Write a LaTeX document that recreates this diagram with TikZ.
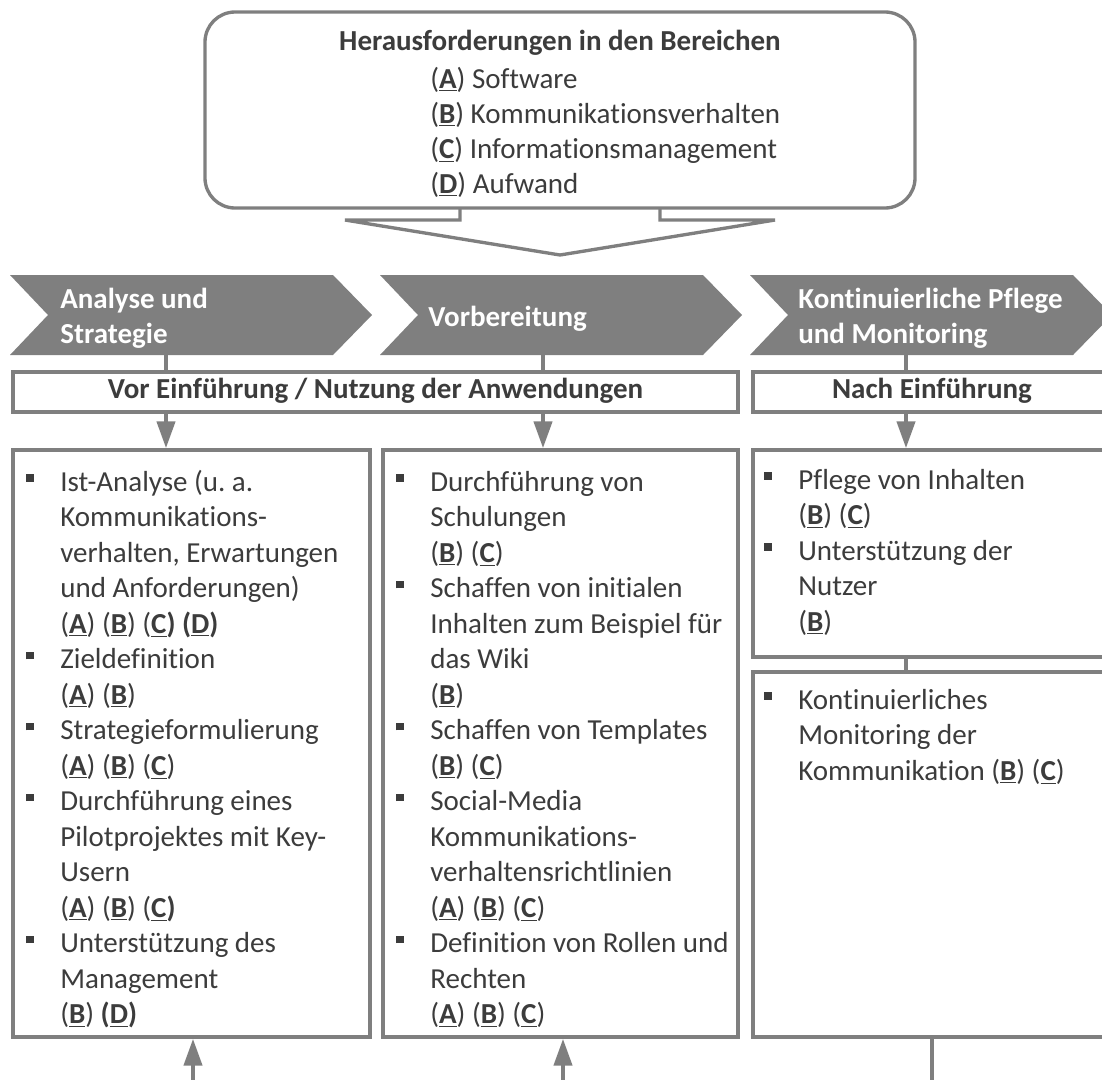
\documentclass[tikz,border=0pt]{standalone}
\usepackage{fontspec}
\setmainfont{Carlito}[Ligatures=NoCommon]
\usetikzlibrary{arrows.meta,fit}
\frenchspacing

\definecolor{linegray}{HTML}{7F7F7F}
\definecolor{txtgray}{HTML}{3C3C3C}

% underlined area letter, bullet square, first-line strut
\newcommand{\ltr}[1]{\underline{\textbf{#1}}}
\newcommand{\sq}{\leavevmode\llap{\rule[5.4pt]{4.3pt}{4.3pt}\hspace{15.1pt}}}
\newcommand{\tstrut}{\rule{0pt}{14.2pt}}

\tikzset{
  frame/.style={draw=linegray, line width=1.9pt, fill=white, inner sep=0pt},
  chev/.style={fill=linegray},
  conn/.style={draw=linegray, line width=2.6pt},
  arr/.style={conn, -{Triangle[length=15.4pt,width=10.2pt]}},
  bodytext/.style={anchor=north west, inner sep=0pt, align=left, text=txtgray,
    font=\fontsize{16.5}{20.2}\selectfont},
  headtext/.style={inner sep=0pt, text=txtgray, font=\bfseries\fontsize{16.5}{19.9}\selectfont},
  chevtext/.style={anchor=north west, inner sep=0pt, align=left, text=white,
    font=\bfseries\fontsize{16.5}{20.2}\selectfont}
}

\begin{document}
\begin{tikzpicture}[x=0.02cm, y=-0.02cm]
  \useasboundingbox (0,0) rectangle (1102,1079);
  \clip (0,0) rectangle (1102,1079);

  % challenges and the wide arrow below
  \draw[linegray, line width=1.9pt, fill=white] (460,208) -- (460,220) -- (345,220) -- (560,255)
    -- (775,220) -- (660,220) -- (660,208);
  \node[frame, rounded corners=0.6cm, fit={(205,12) (915,208)}] (chall) {};
  \node[headtext, anchor=base] (title) at (560,50) {Herausforderungen in den Bereichen};
  \node[bodytext, font=\fontsize{16.5}{19.9}\selectfont] (areas) at (430,63) {\tstrut(\ltr{A}) Software\\
    (\ltr{B}) Kommunikationsverhalten\\
    (\ltr{C}) Informationsmanagement\\
    (\ltr{D}) Aufwand};

  % phases
  \foreach \x in {10,380,750}
    \fill[chev] (\x,275) -- ++(323,0) -- ++(39,40) -- ++(-39,40) -- ++(-323,0) -- ++(38,-40) -- cycle;
  \node[chevtext] (chA) at (60,283) {\tstrut Analyse und\\Strategie};
  \node[chevtext] (chB) at (428,301) {\tstrut Vorbereitung};
  \node[chevtext] (chC) at (798,283) {\tstrut Kontinuierliche Pflege\\und Monitoring};
  \coordinate (cA) at (166,355);
  \coordinate (cB) at (543,355);
  \coordinate (cC) at (906,355);

  % time bars
  \node[frame, fit={(13,372) (738,412)}] (vor) {};
  \node[frame, fit={(753,372) (1111,412)}] (nach) {};
  \node[headtext, anchor=base] (vorT) at (375.5,398) {Vor Einführung / Nutzung der Anwendungen};
  \node[headtext, anchor=base] (nachT) at (932,398) {Nach Einführung};

  % measure boxes
  \node[frame, fit={(13,450) (370,1037)}] (boxA) {};
  \node[frame, fit={(383,450) (738,1037)}] (boxB) {};
  \node[frame, fit={(753,450) (1111,657)}] (boxC) {};
  \node[frame, fit={(753,672) (1111,1037)}] (boxD) {};

  \draw[conn] (cA) -- (cA |- vor.north);
  \draw[conn] (cB) -- (cB |- vor.north);
  \draw[conn] (cC) -- (cC |- nach.north);
  \draw[arr] (vor.south -| cA) -- (boxA.north -| cA);
  \draw[arr] (vor.south -| cB) -- (boxB.north -| cB);
  \draw[arr] (nach.south -| cC) -- (boxC.north -| cC);
  \draw[conn] (boxC.south -| cC) -- (boxD.north -| cC);

  \node[bodytext] (listA) at (60,466) {\tstrut\sq Ist-Analyse (u. a.\\
    Kommunikations-\\
    verhalten, Erwartungen\\
    und Anforderungen)\\
    (\ltr{A}) (\ltr{B}) (\ltr{C}\textbf{)} \textbf{(}\ltr{D}\textbf{)}\\
    \sq Zieldefinition\\
    (\ltr{A}) (\ltr{B})\\
    \sq Strategieformulierung\\
    (\ltr{A}) (\ltr{B}) (\ltr{C})\\
    \sq Durchführung eines\\
    Pilotprojektes mit Key-\\
    Usern\\
    (\ltr{A}) (\ltr{B}) (\ltr{C}\textbf{)}\\
    \sq Unterstützung des\\
    Management\\
    (\ltr{B}) \textbf{(}\ltr{D}\textbf{)}};
  \node[bodytext] (listB) at (430,466) {\tstrut\sq Durchführung von\\
    Schulungen\\
    (\ltr{B}) (\ltr{C})\\
    \sq Schaffen von initialen\\
    Inhalten zum Beispiel für\\
    das Wiki\\
    (\ltr{B})\\
    \sq Schaffen von Templates\\
    (\ltr{B}) (\ltr{C})\\
    \sq Social-Media\\
    Kommunikations-\\
    verhaltensrichtlinien\\
    (\ltr{A}) (\ltr{B}) (\ltr{C})\\
    \sq Definition von Rollen und\\
    Rechten\\
    (\ltr{A}) (\ltr{B}) (\ltr{C})};
  \node[bodytext] (listC) at (798,464) {\tstrut\sq Pflege von Inhalten\\
    (\ltr{B}) (\ltr{C})\\
    \sq Unterstützung der\\
    Nutzer\\
    (\ltr{B})};
  \node[bodytext] (listD) at (798,684) {\tstrut\sq Kontinuierliches\\
    Monitoring der\\
    Kommunikation (\ltr{B}) (\ltr{C})};

  % inputs from below
  \coordinate (inA) at (193,1095);
  \coordinate (inB) at (563,1095);
  \coordinate (outC) at (932,1095);
  \draw[arr] (inA) -- (inA |- boxA.south);
  \draw[arr] (inB) -- (inB |- boxB.south);
  \draw[conn] (boxD.south -| outC) -- (outC);
\end{tikzpicture}
\end{document}
